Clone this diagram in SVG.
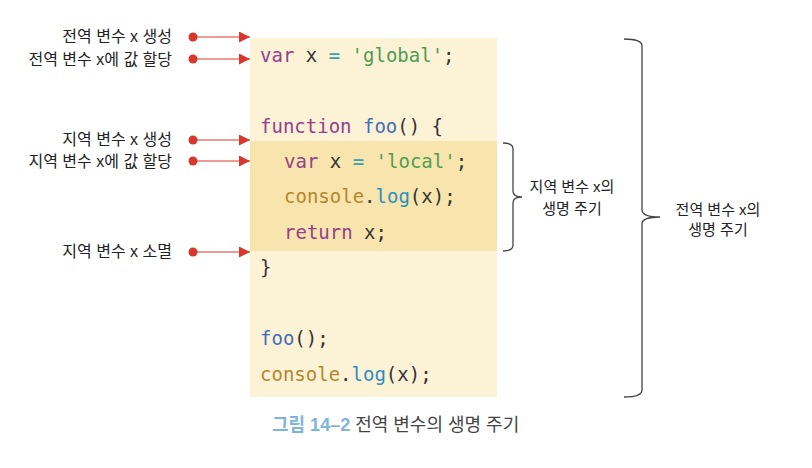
<svg xmlns="http://www.w3.org/2000/svg" width="812" height="468" viewBox="0 0 812 468">
<defs>
<marker id="ah" viewBox="0 0 10 10" refX="10" refY="5" markerWidth="11" markerHeight="11" markerUnits="userSpaceOnUse" orient="auto"><path d="M0,0 L10,5 L0,10 Z" fill="#d9372b"/></marker>
</defs>
<style>
.lbl{font-family:"Liberation Sans","Noto Sans CJK KR",sans-serif;font-size:16px;fill:#222;text-anchor:end}
.note{font-family:"Liberation Sans","Noto Sans CJK KR",sans-serif;font-size:15px;fill:#222;text-anchor:middle}
.code{font-family:"DejaVu Sans Mono","Liberation Mono",monospace;font-size:19px;fill:#333}
.kw{fill:#94408f}.eq{fill:#3aa0ad}.str{fill:#4f9d4f}.fn{fill:#3f6fb8}.obj{fill:#b5872d}.mt{fill:#2d8fc0}
.conn line{stroke:#d9372b;stroke-width:1}
.dot{fill:#d9372b}
.br{fill:none;stroke:#444;stroke-width:1.3}
</style>
<rect x="250" y="38" width="247" height="359" fill="#fcf2d6"/>
<rect x="250" y="141" width="247" height="110" fill="#f7e5ad"/>
<g id="code">
<text class="code" x="260" y="62"><tspan class="kw">var</tspan> x <tspan class="eq">=</tspan> <tspan class="str">'global'</tspan>;</text>
<text class="code" x="260" y="133"><tspan class="kw">function</tspan> <tspan class="fn">foo</tspan>() {</text>
<text class="code" x="284" y="168"><tspan class="kw">var</tspan> x <tspan class="eq">=</tspan> <tspan class="str">'local'</tspan>;</text>
<text class="code" x="284" y="203"><tspan class="obj">console</tspan>.<tspan class="mt">log</tspan>(x);</text>
<text class="code" x="284" y="239"><tspan class="kw">return</tspan> x;</text>
<text class="code" x="260" y="274">}</text>
<text class="code" x="260" y="345"><tspan class="fn">foo</tspan>();</text>
<text class="code" x="260" y="381"><tspan class="obj">console</tspan>.<tspan class="mt">log</tspan>(x);</text>
</g>
<g id="n1"><text class="lbl" x="172" y="42">전역 변수 x 생성</text></g>
<g id="n2"><text class="lbl" x="172" y="65">전역 변수 x에 값 할당</text></g>
<g id="n3"><text class="lbl" x="172" y="145">지역 변수 x 생성</text></g>
<g id="n4"><text class="lbl" x="172" y="167">지역 변수 x에 값 할당</text></g>
<g id="n5"><text class="lbl" x="172" y="257">지역 변수 x 소멸</text></g>
<g id="connectors" class="conn">
<circle class="dot" cx="193" cy="37" r="4.5"/><line x1="193" y1="37" x2="250" y2="37" marker-end="url(#ah)"/>
<circle class="dot" cx="193" cy="59" r="4.5"/><line x1="193" y1="59" x2="250" y2="59" marker-end="url(#ah)"/>
<circle class="dot" cx="193" cy="140" r="4.5"/><line x1="193" y1="140" x2="250" y2="140" marker-end="url(#ah)"/>
<circle class="dot" cx="193" cy="161" r="4.5"/><line x1="193" y1="161" x2="250" y2="161" marker-end="url(#ah)"/>
<circle class="dot" cx="193" cy="252" r="4.5"/><line x1="193" y1="252" x2="250" y2="252" marker-end="url(#ah)"/>
</g>
<g id="local-brace">
<path class="br" d="M503,143 Q513,143 513,149 L513,191 Q513,197 522,197 Q513,197 513,203 L513,245 Q513,251 503,251"/>
<text class="note" x="572" y="192">지역 변수 x의</text>
<text class="note" x="572" y="214">생명 주기</text>
</g>
<g id="global-brace">
<path class="br" d="M624,39 Q642,39 642,46 L642,210 Q642,217 660,217 Q642,217 642,224 L642,390 Q642,397 624,397"/>
<text class="note" x="718" y="215">전역 변수 x의</text>
<text class="note" x="718" y="235">생명 주기</text>
</g>
<g id="caption">
<text x="272" y="431" style="font-family:'Liberation Sans','Noto Sans CJK KR',sans-serif;font-size:18px"><tspan fill="#7fb5dc" font-weight="bold">그림 14–2</tspan><tspan fill="#444"> 전역 변수의 생명 주기</tspan></text>
</g>
</svg>
